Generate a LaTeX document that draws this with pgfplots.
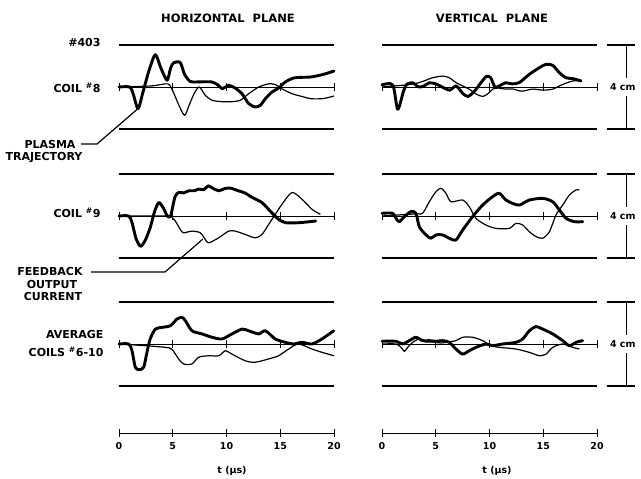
\documentclass[border=0pt]{standalone}
\usepackage{pgfplots}
\pgfplotsset{compat=1.18}
\usepackage{fontspec}
\setmainfont{DejaVu Sans}
\newcommand{\lab}{\bfseries\fontsize{11}{12}\selectfont}
\newcommand{\ttl}{\bfseries\fontsize{11.5}{12}\selectfont}
\newcommand{\sml}{\bfseries\fontsize{9.5}{10}\selectfont}
\begin{document}
\begin{tikzpicture}
\useasboundingbox (0pt,0pt) rectangle (641pt,479pt);
\pgfplotsset{
 panel/.style={scale only axis, width=215pt, height=84pt, xmin=0, xmax=20, ymin=-2, ymax=2,
   axis x line=middle, axis y line=none, axis line style={-, line width=0.8pt},
   xtick={0,5,10,15,20}, xticklabels={}, xtick align=center, major tick length=8pt,
   tick style={line width=0.8pt, black}, clip=false, anchor=south west},
 thk/.style={black, line width=2.9pt, smooth, tension=0.45, no marks, line join=round, line cap=round},
 thn/.style={black, line width=1.2pt, smooth, tension=0.45, no marks, line join=round},
}
\newcommand{\bounds}{%
  \draw[line width=1.3pt] (axis cs:0,2)--(axis cs:20,2);
  \draw[line width=1.3pt] (axis cs:0,-2)--(axis cs:20,-2);}
\newcommand{\bracket}{%
  \draw[line width=1.3pt] (axis cs:20.93,2)--(axis cs:23.53,2);
  \draw[line width=1.3pt] (axis cs:20.93,-2)--(axis cs:23.53,-2);
  \draw[line width=1pt] (axis cs:22.79,2)--(axis cs:22.79,0.45);
  \draw[line width=1pt] (axis cs:22.79,-0.45)--(axis cs:22.79,-2);
  \node[font=\sml, fill=white, inner sep=1pt] at (axis cs:22.4,0) {4 cm};}

% ---------- Horizontal plane, coil #8
\begin{axis}[panel, at={(119pt,350pt)}]
\bounds
\addplot[thn] coordinates {(0,0) (3.0,0.05) (4.3,0.15) (4.7,0.1) (5.1,-0.3) (5.6,-0.9) (6.1,-1.35) (6.5,-0.9) (7.0,-0.3) (7.47,0.0) (8.03,-0.4) (8.65,-0.63) (9.58,-0.7) (10.51,-0.7) (11.29,-0.63) (12.06,-0.32) (12.99,0.0) (13.61,0.11) (14.08,0.16) (14.6,0.1) (15.2,-0.1) (16.1,-0.32) (17.0,-0.45) (17.9,-0.56) (19.0,-0.55) (20,-0.43)};
\addplot[thk] coordinates {(0,0) (1.0,0) (1.3,-0.3) (1.77,-1.03) (2.2,-0.3) (2.8,0.8) (3.38,1.54) (3.9,0.9) (4.47,0.32) (4.8,0.9) (5.1,1.16) (5.7,1.16) (6.1,0.6) (6.6,0.27) (7.1,0.24) (8.0,0.25) (8.65,0.24) (9.2,0.1) (9.6,-0.08) (10.2,0.08) (10.8,-0.05) (11.44,-0.32) (12.06,-0.79) (12.68,-0.95) (13.15,-0.87) (13.61,-0.56) (14.23,-0.24) (14.85,-0.05) (15.47,0.24) (16.25,0.43) (17.0,0.46) (17.9,0.48) (19.0,0.6) (20,0.76)};
\coordinate (plasma) at (axis cs:1.77,-1.03);
\end{axis}

% ---------- Horizontal plane, coil #9
\begin{axis}[panel, at={(119pt,221pt)}]
\bounds
\addplot[thn] coordinates {(0,0) (4.5,0) (4.78,0.0) (5.24,-0.24) (5.7,-0.64) (6.0,-0.8) (6.79,-0.72) (7.57,-0.8) (8.03,-1.12) (8.34,-1.28) (9.27,-1.04) (10.2,-0.72) (10.82,-0.72) (11.75,-0.88) (12.68,-1.04) (13.3,-0.88) (13.92,-0.4) (14.54,0.08) (15.16,0.56) (16.09,1.12) (17.02,0.8) (17.95,0.32) (18.73,0.08)};
\addplot[thk] coordinates {(0,0) (0.9,0) (1.2,-0.3) (1.6,-1.1) (2.0,-1.44) (2.4,-1.2) (2.9,-0.56) (3.3,0.2) (3.7,0.64) (4.1,0.4) (4.5,0) (4.8,0.0) (5.2,0.9) (5.55,1.12) (6.0,1.1) (6.5,1.2) (7.0,1.2) (7.4,1.28) (7.9,1.25) (8.3,1.44) (8.8,1.3) (9.3,1.2) (9.8,1.3) (10.35,1.33) (11.1,1.2) (11.7,1.1) (12.4,0.88) (13.3,0.64) (14.2,0.16) (14.85,-0.16) (15.5,-0.32) (16.7,-0.32) (18.3,-0.24)};
\coordinate (feedback) at (axis cs:7.8,-1.1);
\end{axis}

% ---------- Horizontal plane, average
\begin{axis}[panel, at={(119pt,93pt)}]
\bounds
\addplot[thn] coordinates {(0,0) (2.45,-0.08) (4.3,-0.16) (4.9,-0.24) (5.55,-0.71) (6.0,-0.95) (6.79,-0.95) (7.41,-0.63) (8.34,-0.56) (9.27,-0.56) (9.9,-0.32) (10.5,-0.48) (11.75,-0.8) (12.68,-0.87) (13.92,-0.71) (14.85,-0.56) (15.78,-0.24) (16.7,0) (17.95,-0.24) (18.9,-0.4) (20,-0.56)};
\addplot[thk] coordinates {(0,0) (0.9,0) (1.2,-0.3) (1.52,-1.11) (1.9,-1.22) (2.3,-1.1) (2.6,-0.4) (2.9,0.24) (3.38,0.71) (4.0,0.79) (4.78,0.87) (5.4,1.19) (5.86,1.27) (6.17,1.11) (6.79,0.63) (7.72,0.48) (8.65,0.32) (9.58,0.24) (10.51,0.48) (11.44,0.71) (12.06,0.63) (12.99,0.48) (13.61,0.63) (14.54,0.24) (15.47,0.08) (16.25,0) (17.02,0.08) (17.95,0) (18.88,0.24) (19.97,0.63)};
\end{axis}

% ---------- Vertical plane, coil #8
\begin{axis}[panel, at={(382pt,350pt)}]
\bounds
\addplot[thn] coordinates {(0,0) (2.3,0.1) (2.9,0.15) (3.4,0.2) (3.92,0.29) (4.7,0.44) (5.64,0.52) (6.26,0.44) (6.88,0.21) (7.5,0.05) (8.1,-0.1) (8.8,-0.35) (9.4,-0.45) (9.9,-0.3) (10.3,-0.1) (10.8,-0.05) (11.5,-0.1) (12.2,-0.1) (13.0,-0.2) (14.0,-0.1) (15.0,-0.15) (15.9,-0.1) (16.5,0.05) (17.2,0.2) (17.9,0.3) (18.5,0.29)};
\addplot[thk] coordinates {(0,0.1) (1.0,0.1) (1.46,-1.06) (2.0,-0.2) (2.3,0.13) (2.85,0.2) (3.4,0.0) (3.9,0.05) (4.4,0.2) (5.0,0.15) (5.6,0.0) (6.3,-0.15) (6.9,0.05) (7.5,-0.3) (8.0,-0.45) (8.6,-0.2) (9.2,0.2) (9.7,0.5) (10.1,0.45) (10.5,0.0) (10.9,0.05) (11.5,0.2) (12.1,0.15) (12.77,0.21) (13.7,0.6) (14.64,0.92) (15.26,1.08) (15.88,1.03) (16.5,0.68) (17.12,0.44) (17.74,0.4) (18.51,0.29)};
\bracket
\end{axis}

% ---------- Vertical plane, coil #9
\begin{axis}[panel, at={(382pt,221pt)}]
\bounds
\addplot[thn] coordinates {(0,0) (3.16,0.1) (3.78,0.13) (4.4,0.68) (5.02,1.16) (5.49,1.32) (5.95,1.08) (6.42,0.68) (7.5,0.76) (8.12,0.44) (8.74,-0.11) (9.67,-0.43) (10.6,-0.59) (11.84,-0.59) (12.47,-0.35) (13.09,-0.43) (13.71,-0.75) (14.33,-0.98) (14.95,-1.06) (15.57,-0.75) (16.19,0.05) (16.81,0.52) (17.43,1.0) (18.05,1.24) (18.36,1.24)};
\addplot[thk] coordinates {(0,0.13) (0.99,0.13) (1.3,-0.11) (1.61,-0.27) (2.08,-0.03) (2.7,0.21) (3.16,0.13) (3.47,-0.51) (4.09,-0.9) (4.56,-1.06) (5.02,-0.9) (5.64,-0.9) (6.26,-1.06) (6.88,-1.14) (7.5,-0.67) (8.43,-0.03) (9.36,0.52) (10.29,0.92) (10.91,1.08) (11.53,0.76) (12.16,0.6) (12.78,0.52) (13.71,0.76) (14.95,0.84) (15.88,0.68) (16.5,0.29) (17.12,-0.11) (17.89,-0.27) (18.67,-0.27)};
\bracket
\end{axis}

% ---------- Vertical plane, average
\begin{axis}[panel, at={(382pt,93pt)}]
\bounds
\addplot[thn] coordinates {(0,0) (1.3,0) (1.77,-0.16) (2.08,-0.35) (2.39,-0.16) (2.85,0.08) (3.47,0.24) (4.0,0.1) (4.6,0.1) (5.5,0.05) (6.26,0.1) (6.88,0.16) (7.5,0.32) (8.43,0.32) (9.36,0.16) (10.14,-0.08) (10.91,-0.16) (12.47,-0.24) (13.71,-0.4) (14.64,-0.56) (15.26,-0.48) (15.88,-0.16) (16.81,0) (17.74,-0.16) (18.36,-0.24)};
\addplot[thk] coordinates {(0,0.13) (1.3,0.13) (1.92,0) (2.54,0.16) (3.16,0.32) (3.78,0.16) (4.4,0.16) (5.02,0.13) (5.64,0.16) (6.26,0.08) (6.88,-0.24) (7.5,-0.48) (8.12,-0.32) (8.74,-0.16) (9.67,0) (10.29,-0.08) (11.22,0) (12.47,0.08) (13.09,0.24) (13.71,0.63) (14.33,0.83) (14.95,0.71) (15.88,0.48) (16.81,0.16) (17.43,-0.08) (18.05,0.08) (18.67,0.16)};
\bracket
\end{axis}

% ---------- time axes
\begin{axis}[panel, at={(119pt,36pt)}, height=20pt, ymin=-1, ymax=1,
  xticklabels={0,5,10,15,20}, xticklabel style={font=\sml, yshift=-2pt}]
\end{axis}
\begin{axis}[panel, at={(382pt,36pt)}, height=20pt, ymin=-1, ymax=1,
  xticklabels={0,5,10,15,20}, xticklabel style={font=\sml, yshift=-2pt}]
\end{axis}

% ---------- text
\node[font=\ttl] at (228pt,461pt) {HORIZONTAL\ \ PLANE};
\node[font=\ttl] at (492pt,461pt) {VERTICAL\ \ PLANE};
\node[font=\lab, anchor=east] at (104pt,436pt) {\#403};
\node[font=\lab, anchor=east] at (104pt,391pt) {COIL \textsuperscript{\#}8};
\node[font=\lab] at (50pt,334pt) {PLASMA};
\node[font=\lab] at (44pt,321pt) {TRAJECTORY};
\draw[line width=1.2pt] (81pt,335pt)--(97pt,335pt)--(plasma);
\node[font=\lab, anchor=east] at (104pt,266pt) {COIL \textsuperscript{\#}9};
\node[font=\lab] at (50pt,207pt) {FEEDBACK};
\node[font=\lab] at (52pt,194pt) {OUTPUT};
\node[font=\lab] at (53pt,182pt) {CURRENT};
\draw[line width=1.2pt] (91pt,207pt)--(165pt,207pt)--(feedback);
\node[font=\lab, anchor=east] at (107pt,144pt) {AVERAGE};
\node[font=\lab, anchor=east] at (107pt,127pt) {COILS \textsuperscript{\#}6-10};
\node[font=\sml] at (232pt,8pt) {t (μs)};
\node[font=\sml] at (497pt,8pt) {t (μs)};
\end{tikzpicture}
\end{document}
